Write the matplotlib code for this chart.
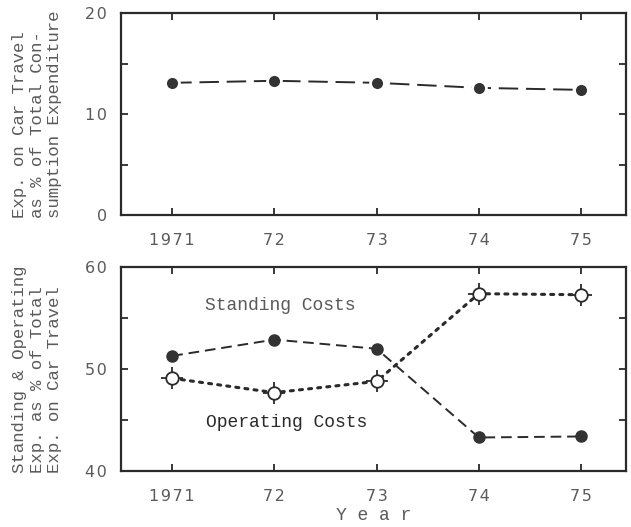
import numpy as np
import matplotlib
matplotlib.use("Agg")
import matplotlib.pyplot as plt

# data
years = [1971, 1972, 1973, 1974, 1975]
year_labels = ["1971", "72", "73", "74", "75"]
car_share = [13.1, 13.3, 13.1, 12.6, 12.4]
standing = [51.3, 52.9, 52.0, 43.3, 43.4]
operating = [49.1, 47.7, 48.8, 57.4, 57.3]

mono = "Liberation Mono"
ink = "#2a2a2a"
grey = "#5a5a5a"

fig = plt.figure(figsize=(6.31, 5.27), dpi=100)
ax1 = fig.add_axes([0.192, 0.592, 0.800, 0.383])
ax2 = fig.add_axes([0.192, 0.106, 0.800, 0.387])


def spaced(s):
    # the typeset labels have a little letter spacing
    return "\u200a".join(s)


def style_axis(ax, ymin, ymax, step):
    ax.set_xlim(1970.5, 1975.44)
    ax.set_ylim(ymin, ymax)
    ax.set_xticks(years)
    ax.set_xticklabels([spaced(l) for l in year_labels])
    yt = np.arange(ymin, ymax + 1, step)
    ax.set_yticks(yt)
    ax.set_yticklabels([spaced(str(v)) if (v - ymin) % (2 * step) == 0 else "" for v in yt])
    ax.tick_params(direction="in", length=5, width=1.3, color=ink,
                   top=True, right=True, labelsize=11.5, labelcolor=grey)
    ax.tick_params(axis="x", pad=13)
    ax.tick_params(axis="y", pad=10)
    for s in ax.spines.values():
        s.set_linewidth(1.6)
        s.set_color(ink)
    for lab in ax.get_xticklabels() + ax.get_yticklabels():
        lab.set_fontfamily("DejaVu Sans")


style_axis(ax1, 0, 20, 5)
style_axis(ax2, 40, 60, 5)

# top panel
ax1.plot(years, car_share, linestyle=(0, (10, 4)), color=ink, linewidth=1.4,
         marker="o", markersize=10, markerfacecolor="#333333",
         markeredgecolor="white", markeredgewidth=2)
ax1.set_ylabel("Exp. on Car Travel\nas % of Total Con-\nsumption Expenditure",
               fontfamily=mono, fontsize=12.5, color=grey, multialignment="left",
               linespacing=1.2)

# bottom panel
ax2.plot(years, standing, linestyle=(0, (5.5, 3)), color=ink, linewidth=1.4,
         marker="o", markersize=8, markerfacecolor="#333333", markeredgecolor="#333333")
ax2.plot(years, operating, linestyle=(0, (1, 2)), color=ink, linewidth=2.2,
         dash_capstyle="round")
ax2.plot(years, operating, linestyle="none", marker="+", markersize=16,
         markeredgewidth=1.3, color=ink)
ax2.plot(years, operating, linestyle="none", marker="o", markersize=9,
         markerfacecolor="white", markeredgecolor=ink, markeredgewidth=1.3)

ax2.text(1972.06, 56.2, "Standing Costs", fontfamily=mono, fontsize=13,
         color=grey, ha="center", va="center")
ax2.text(1972.12, 44.8, "Operating Costs", fontfamily=mono, fontsize=13,
         color=ink, ha="center", va="center")

ax2.set_ylabel("Standing & Operating\nExp. as % of Total\nExp. on Car Travel",
               fontfamily=mono, fontsize=12.5, color=grey, multialignment="left",
               linespacing=1.2)
ax1.yaxis.set_label_coords(-0.117, 0.5)
ax2.yaxis.set_label_coords(-0.117, 0.5)
ax2.set_xlabel("Y e a r", fontfamily=mono, fontsize=13, color=grey, labelpad=2)

fig.savefig("out.png", dpi=100)
